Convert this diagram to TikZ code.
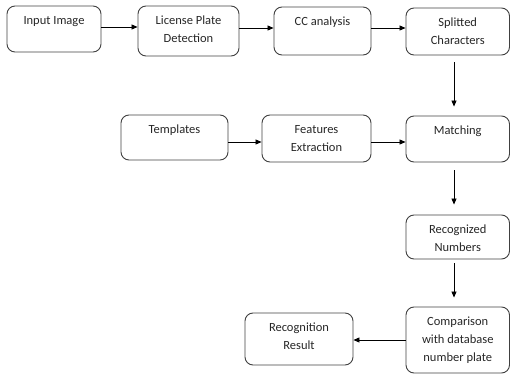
\documentclass[tikz,border=0pt]{standalone}
\usepackage{fontspec}
\setmainfont{Carlito}
\usetikzlibrary{arrows.meta,calc}
\begin{document}
\begin{tikzpicture}[x=1pt,y=-1pt,
  box/.style={draw=black!75,line width=0.9pt,rounded corners=8pt,inner sep=0pt},
  txt/.style={anchor=north,inner sep=0pt,align=center,font=\fontsize{12.5}{18}\selectfont,text=black!85},
  arr/.style={draw=black,line width=0.8pt,-{Triangle[length=6pt,width=5pt]}}]
\useasboundingbox (0,0) rectangle (511,374);
\newcommand{\mybox}[6]{%
  \node[box,minimum width={(#4)-(#2)},minimum height={(#5)-(#3)}] (#1) at ({((#2)+(#4))/2},{((#3)+(#5))/2}) {};
  \node[txt] (#1t) at ([yshift=-10.5pt]#1.north) {#6};}
\mybox{in}{7}{6}{101}{52}{Input Image}
\mybox{lpd}{138}{6}{239}{56}{License Plate\\Detection}
\mybox{cc}{274}{7}{371}{55}{CC analysis}
\mybox{sc}{406}{8}{509.5}{55}{Splitted\\Characters}
\mybox{tpl}{121}{115}{228}{160}{Templates}
\mybox{fe}{262}{115}{371}{162}{Features\\Extraction}
\mybox{mt}{406}{116}{509.5}{162}{Matching}
\mybox{rn}{406}{215}{509.5}{259}{Recognized\\Numbers}
\mybox{cmp}{406}{307}{509.5}{373}{Comparison\\with database\\number plate}
\mybox{rr}{245}{313}{353}{365}{Recognition\\Result}
% horizontal arrows
\draw[arr] (in.east |- 0,27) -- (lpd.west |- 0,27);
\draw[arr] (lpd.east |- 0,28) -- (cc.west |- 0,28);
\draw[arr] (cc.east |- 0,28) -- (sc.west |- 0,28);
\draw[arr] (tpl.east |- 0,142) -- (fe.west |- 0,142);
\draw[arr] (fe.east |- 0,142) -- (mt.west |- 0,142);
\draw[arr] (cmp.west |- 0,340) -- (rr.east |- 0,340);
% vertical arrows
\draw[arr,shorten <=7pt,shorten >=9pt] (sc.south -| 454,0) -- (mt.north -| 454,0);
\draw[arr,shorten <=8pt,shorten >=10pt] (mt.south -| 454,0) -- (rn.north -| 454,0);
\draw[arr,shorten <=4pt,shorten >=9pt] (rn.south -| 454,0) -- (cmp.north -| 454,0);
\end{tikzpicture}
\end{document}
